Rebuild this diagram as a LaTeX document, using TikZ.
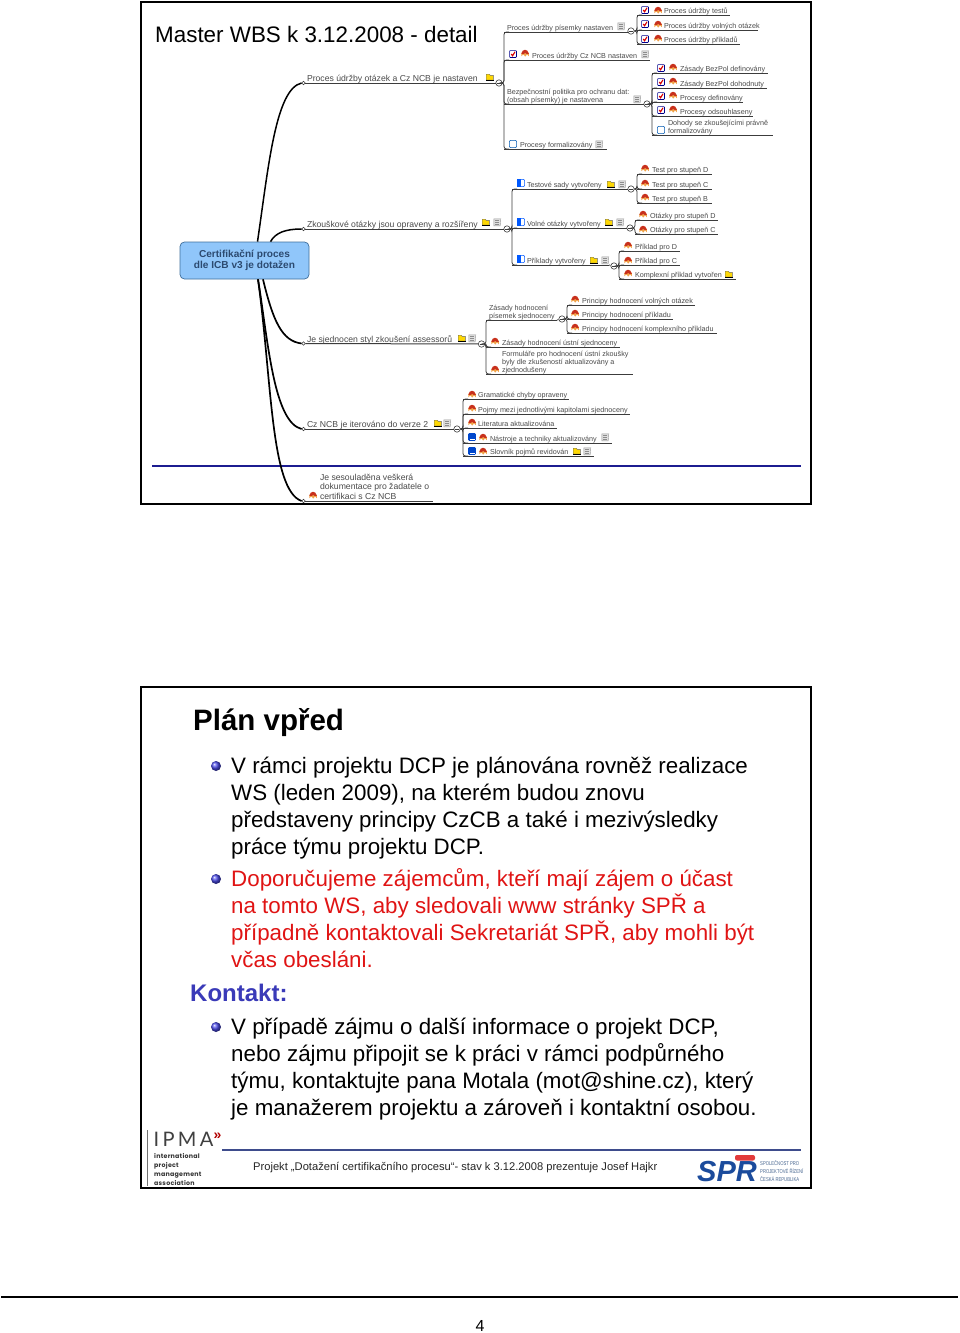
\documentclass[tikz,border=0pt]{standalone}
\usepackage{fontspec}
\setmainfont{Liberation Sans}
\newfontfamily\logofont[LetterSpace=4]{Poppins}
\newfontfamily\ipmafont{Lato}
\newfontfamily\sprfont[FakeStretch=0.75]{Liberation Sans}
\definecolor{lblc}{HTML}{4A4A4A}
\definecolor{connc}{HTML}{3C3C3C}
\definecolor{rootf}{HTML}{90C6FA}
\definecolor{rootd}{HTML}{3F6F9C}
\definecolor{roott}{HTML}{2C4A70}
\definecolor{ruleb}{HTML}{1C1C90}
\definecolor{rulec}{HTML}{3E4C8C}
\definecolor{bulc}{HTML}{4A4AE8}
\definecolor{kont}{HTML}{3A3AB8}
\definecolor{redt}{HTML}{E01414}
\definecolor{sprb}{HTML}{1B4B9C}
\definecolor{sprr}{HTML}{E23A3A}
\definecolor{sprt}{HTML}{46658F}
\definecolor{prr}{HTML}{C8301C}
\definecolor{pro}{HTML}{F0A24A}
\tikzset{
 frameb/.style={draw=black,line width=2pt,fill=white},
 lbl/.style={inner sep=0pt,outer sep=0pt,anchor=base west,align=left,text=lblc,font=\fontsize{7.2}{8.1}\selectfont},
 lblb/.style={lbl,font=\fontsize{8.65}{9.2}\selectfont},
 ulne/.style={draw=connc,line width=0.8pt},
 conn/.style={draw=connc,line width=0.8pt,rounded corners=2.5pt},
 main/.style={draw=black,line width=1.5pt},
 colp/.style={circle,draw=connc,fill=white,line width=0.6pt,minimum size=6.4pt,inner sep=0pt,path picture={\draw[connc,line width=0.5pt] ([xshift=-1.8pt]path picture bounding box.center)--([xshift=1.8pt]path picture bounding box.center);}},
 dot/.style={circle,draw=connc,fill=white,line width=0.5pt,minimum size=3.4pt,inner sep=0pt},
 bodyt/.style={inner sep=0pt,anchor=base west,align=left,font=\fontsize{22.35}{27}\selectfont},
 bul/.style={circle,ball color=bulc,draw=none,minimum size=10pt,inner sep=0pt}
}
% item: name, x0 (trunk), x1 (end), y (underline), text x, text
\newcommand{\itm}[6]{\coordinate (#1-a) at (#2,#4);\coordinate (#1-b) at (#3,#4);
 \node[lbl] (#1) at (#5,#4-1.7) {#6};\draw[ulne] (#1-a)--(#1-b);}
\newcommand{\lnk}[2]{\draw[conn] (#1.east)--(#1.east -| #2-a)--(#2-a)--++(5,0);}
% icons
\newcommand{\prio}[2]{\begin{scope}[shift={(#1,#2)}]
 \fill[pro] (-3.6,3.2) -- (-3.6,-0.4) -- (3.8,-0.4) -- (3.8,3.2) -- (2,1.4) -- (0.2,3.6) -- (-1.6,1.4) -- cycle;
 \fill[prr] (-3.6,0.8) .. controls (-3,-4.6) and (3,-4.6) .. (3.8,0.8) -- (1.4,0.8) -- (0.2,-0.2) -- (-1,0.8) -- cycle;
 \end{scope}}
\newcommand{\fld}[2]{\begin{scope}[shift={(#1,#2)}]
 \fill[yellow!75!orange,draw=black!60,line width=0.4pt] (-3.8,3) -- (-3.8,-2.8) -- (-0.6,-2.8) -- (0.2,-1.6) -- (3.4,-1.6) -- (3.4,3) -- cycle;
 \draw[black,line width=0.7pt] (-4,3.2)--(4,3.2);
 \end{scope}}
\newcommand{\noti}[2]{\begin{scope}[shift={(#1,#2)}]
 \fill[black!12,draw=black!40,line width=0.4pt] (-3.2,3.8) -- (-3.2,-3.2) -- (3.8,-3.2) -- (3.2,3.8) -- cycle;
 \draw[black!45,line width=0.4pt] (-2,-1.4)--(2.2,-1.4) (-2,0.3)--(2.2,0.3) (-2,2)--(2.2,2);
 \end{scope}}
\newcommand{\chk}[2]{\begin{scope}[shift={(#1,#2)}]
 \draw[fill=white,draw=blue!55!black,line width=0.7pt,rounded corners=0.6pt] (-3.4,-3.4) rectangle (3.4,3.4);
 \draw[red!85!black,line width=1.1pt] (-1.8,0) -- (-0.4,1.8) -- (2,-2.2);
 \end{scope}}
\newcommand{\ebx}[2]{\begin{scope}[shift={(#1,#2)}]
 \draw[fill=white,draw=blue!50!cyan!70!black,line width=0.6pt,rounded corners=1pt] (-3.6,-3.6) rectangle (3.6,3.6);
 \end{scope}}
\newcommand{\hbx}[2]{\begin{scope}[shift={(#1,#2)}]
 \draw[fill=white,draw=blue!65!cyan,line width=0.6pt,rounded corners=1pt] (-3.6,-3.6) rectangle (3.6,3.6);
 \fill[blue!65!cyan] (-3.6,-3.6) rectangle (0.4,3.6);
 \end{scope}}
\newcommand{\fbx}[2]{\begin{scope}[shift={(#1,#2)}]
 \fill[blue!65!cyan!80!black,rounded corners=1pt] (-3.8,-3.8) rectangle (3.8,3.8);
 \fill[white] (-1.6,2) rectangle (3,3);
 \end{scope}}
\begin{document}
\begin{tikzpicture}[x=1pt,y=-1pt]
\useasboundingbox (0,0) rectangle (960,1333);
\fill[white] (0,0) rectangle (960,1333);
% slide frames
\draw[frameb] (141,2) rectangle (811,504);
\draw[frameb] (141,687) rectangle (811,1188);
% ---- slide 1
\node[inner sep=0pt,anchor=base west,font=\fontsize{22.4}{27}\selectfont] (title) at (155,42) {Master WBS k 3.12.2008 - detail};
\coordinate (rl1) at (152,466);\coordinate (rl2) at (801,466);
\draw[ruleb,line width=1.3pt] (rl1)--(rl2);
\node[draw=rootd,fill=rootf,line width=0.7pt,rounded corners=4.5pt,minimum width=129pt,minimum height=37pt,inner sep=0pt,align=center,text=roott,font=\bfseries\fontsize{10.1}{11}\selectfont] (root) at (244.5,260.5) {Certifikační proces\\dle ICB v3 je dotažen};
% level 1
\node[dot] (d1) at (303.5,83) {};
\node[dot] (d2) at (303.5,229) {};
\node[dot] (d3) at (303.5,343.5) {};
\node[dot] (d4) at (303.5,429) {};
\node[dot] (d5) at (303.5,501) {};
\node[colp] (c1) at (499,83) {};
\node[colp] (c2) at (507,229) {};
\node[colp] (c3) at (481.5,344) {};
\node[colp] (c4) at (457,429) {};
\coordinate (e5) at (433,501);
\draw[ulne,line width=1pt] (d1)--(c1);
\draw[ulne] (d2)--(c2);
\draw[ulne,line width=1pt] (d3)--(c3);
\draw[ulne] (d4)--(c4);
\draw[ulne] (d5)--(e5);
\draw[main] ([xshift=13pt]root.north) .. controls +(11,-75) and +(-26,6) .. (d1.west);
\draw[main] ([xshift=26pt]root.north) .. controls +(5,-9) and +(-16,0) .. (d2.west);
\draw[main,line width=1.7pt] ([xshift=18.5pt]root.south) .. controls +(10,41) and +(-20,-2.5) .. (d3.west);
\draw[main,line width=1.7pt] ([xshift=13.5pt]root.south) .. controls +(10,61) and +(-28,-7) .. (d4.west);
\draw[main,line width=1.7pt] ([xshift=13.5pt]root.south) .. controls +(14,101) and +(-31,-11) .. (d5.west);
\node[lblb] (t1) at (307,81) {Proces údržby otázek a Cz NCB je nastaven};\fld{490}{77}
\node[lblb] (t2) at (307,227) {Zkouškové otázky jsou opraveny a rozšířeny};\fld{486}{222}\noti{497}{222}
\node[lblb] (t3) at (307,342) {Je sjednocen styl zkoušení assessorů};\fld{462}{338}\noti{472}{338}
\node[lblb] (t4) at (307,427) {Cz NCB je iterováno do verze 2};\fld{438}{423}\noti{447}{423}
\node[lblb] (t5) at (320,499) {Je sesouladěna veškerá\\dokumentace pro žadatele o\\certifikaci s Cz NCB};\prio{313}{495}
% branch 1
\itm{a1}{504}{628}{32}{507}{Proces údržby písemky nastaven}\noti{621}{26}
\itm{a2}{504}{650}{60}{532}{Proces údržby Cz NCB nastaven}\chk{513}{54}\prio{525}{53}\noti{645}{54}
\itm{a3}{504}{643}{104}{507}{Bezpečnostní politika pro ochranu dat:\\(obsah písemky) je nastavena}\noti{637}{99}
\itm{a4}{504}{607}{149}{520}{Procesy formalizovány}\ebx{513}{144}\noti{599}{144}
\foreach \n in {a1,a2,a3,a4} {\lnk{c1}{\n}}
\node[colp] (ca1) at (631,31) {};
\node[colp] (ca3) at (647,104) {};
\draw[ulne] (a1-b)--(ca1);\draw[ulne] (a3-b)--(ca3);
\itm{b1}{637}{730}{15}{664}{Proces údržby testů}\chk{645}{10}\prio{658}{10}
\itm{b2}{637}{758}{30}{664}{Proces údržby volných otázek}\chk{645}{24}\prio{658}{24}
\itm{b3}{637}{740}{44}{664}{Proces údržby příkladů}\chk{645}{39}\prio{658}{38}
\foreach \n in {b1,b2,b3} {\lnk{ca1}{\n}}
\itm{f1}{652}{768}{73}{680}{Zásady BezPol definovány}\chk{661}{68}\prio{673}{67}
\itm{f2}{652}{767}{88}{680}{Zásady BezPol dohodnuty}\chk{661}{82}\prio{673}{81}
\itm{f3}{652}{743}{102}{680}{Procesy definovány}\chk{661}{96}\prio{673}{95}
\itm{f4}{652}{753}{116}{680}{Procesy odsouhlaseny}\chk{661}{110}\prio{673}{109}
\itm{f5}{652}{773}{135}{668}{Dohody se zkoušejícími právně\\formalizovány}\ebx{661}{130}
\foreach \n in {f1,f2,f3,f4,f5} {\lnk{ca3}{\n}}
% branch 2
\itm{g1}{512}{627}{189}{527}{Testové sady vytvořeny}\hbx{521}{183}\fld{611}{184}\noti{622}{184}
\itm{g2}{512}{625}{228}{527}{Volné otázky vytvořeny}\hbx{521}{222}\fld{609}{222}\noti{620}{222}
\itm{g3}{512}{609}{265}{527}{Příklady vytvořeny}\hbx{521}{259}\fld{594}{260}\noti{605}{260}
\foreach \n in {g1,g2,g3} {\lnk{c2}{\n}}
\node[colp] (cg1) at (631,189) {};
\node[colp] (cg2) at (630,228) {};
\node[colp] (cg3) at (614,266) {};
\draw[ulne] (g1-b)--(cg1);\draw[ulne] (g2-b)--(cg2);\draw[ulne] (g3-b)--(cg3);
\itm{h1}{637}{712}{174}{652}{Test pro stupeň D}\prio{645}{168}
\itm{h2}{637}{712}{189}{652}{Test pro stupeň C}\prio{645}{183}
\itm{h3}{637}{712}{203}{652}{Test pro stupeň B}\prio{645}{197}
\foreach \n in {h1,h2,h3} {\lnk{cg1}{\n}}
\itm{i1}{635}{718}{220}{650}{Otázky pro stupeň D}\prio{643}{214}
\itm{i2}{635}{718}{234}{650}{Otázky pro stupeň C}\prio{643}{229}
\foreach \n in {i1,i2} {\lnk{cg2}{\n}}
\itm{j1}{619}{680}{251}{635}{Příklad pro D}\prio{628}{245}
\itm{j2}{619}{680}{265}{635}{Příklad pro C}\prio{628}{260}
\itm{j3}{619}{736}{279}{635}{Komplexní příklad vytvořen}\prio{628}{273}\fld{729}{274}
\foreach \n in {j1,j2,j3} {\lnk{cg3}{\n}}
% branch 3
\itm{k1}{486}{557}{320}{489}{Zásady hodnocení\\písemek sjednoceny}
\itm{k2}{486}{620}{347}{502}{Zásady hodnocení ústní sjednoceny}\prio{495}{341}
\itm{k3}{486}{633}{374}{502}{Formuláře pro hodnocení ústní zkoušky\\byly dle zkušeností aktualizovány a\\zjednodušeny}\prio{495}{369}
\foreach \n in {k1,k2,k3} {\lnk{c3}{\n}}
\node[colp] (ck1) at (562,319) {};
\draw[ulne] (k1-b)--(ck1);
\itm{l1}{567}{695}{305}{582}{Principy hodnocení volných otázek}\prio{575}{299}
\itm{l2}{567}{673}{319}{582}{Principy hodnocení příkladu}\prio{575}{313}
\itm{l3}{567}{717}{333}{582}{Principy hodnocení komplexního příkladu}\prio{575}{327}
\foreach \n in {l1,l2,l3} {\lnk{ck1}{\n}}
% branch 4
\itm{m1}{463}{569}{399}{478}{Gramatické chyby opraveny}\prio{472}{394}
\itm{m2}{463}{630}{414}{478}{Pojmy mezi jednotlivými kapitolami sjednoceny}\prio{472}{408}
\itm{m3}{463}{557}{428}{478}{Literatura aktualizována}\prio{472}{422}
\itm{m4}{463}{612}{443}{490}{Nástroje a techniky aktualizovány}\fbx{472}{437}\prio{483}{437}\noti{605}{437}
\itm{m5}{463}{594}{456}{490}{Slovník pojmů revidován}\fbx{472}{451}\prio{483}{451}\fld{577}{451}\noti{587}{451}
\foreach \n in {m1,m2,m3,m4,m5} {\lnk{c4}{\n}}
% ---- slide 2
\node[inner sep=0pt,anchor=base west,font=\bfseries\fontsize{29.5}{34}\selectfont] (plan) at (193,730.5) {Plán vpřed};
\node[bul] (u1) at (216,766) {};
\node[bul] (u2) at (216,879) {};
\node[bul] (u3) at (216,1027) {};
\node[bodyt] (p1) at (231,854) {V rámci projektu DCP je plánována rovněž realizace\\WS (leden 2009), na kterém budou znovu\\představeny principy CzCB a také i mezivýsledky\\práce týmu projektu DCP.};
\node[bodyt,text=redt] (p2) at (231,967) {Doporučujeme zájemcům, kteří mají zájem o účast\\na tomto WS, aby sledovali www stránky SPŘ a\\případně kontaktovali Sekretariát SPŘ, aby mohli být\\včas obesláni.};
\node[inner sep=0pt,anchor=base west,text=kont,font=\bfseries\fontsize{24}{27}\selectfont] (kon) at (190,1001) {Kontakt:};
\node[bodyt] (p3) at (231,1115) {V případě zájmu o další informace o projekt DCP,\\nebo zájmu připojit se k práci v rámci podpůrného\\týmu, kontaktujte pana Motala (mot@shine.cz), který\\je manažerem projektu a zároveň i kontaktní osobou.};
% footer
\coordinate (fl1) at (222,1150);\coordinate (fl2) at (801,1150);
\draw[rulec,line width=1.4pt] (fl1)--(fl2);
\node[inner sep=0pt,anchor=base west,text=black!85,font=\fontsize{11.15}{13}\selectfont] (foot) at (253,1170) {Projekt „Dotažení certifikačního procesu“- stav k 3.12.2008 prezentuje Josef Hajkr};
% IPMA logo
\coordinate (il1) at (147,1130);\coordinate (il2) at (147,1186);
\draw[black!55,line width=1pt] (il1)--(il2);
\node[inner sep=0pt,anchor=base west,text=black!75,font=\ipmafont\fontsize{20}{20}\selectfont] (ipma) at (153.5,1146) {I\,P\,M\,A};
\node[inner sep=0pt,anchor=base west,text=red!70!black,font=\bfseries\fontsize{14}{14}\selectfont] (ipmb) at (213.5,1139) {»};
\node[inner sep=0pt,anchor=base west,align=left,text=black!80,font=\logofont\bfseries\fontsize{6.3}{8.7}\selectfont] (ipmc) at (154,1185) {international\\project\\management\\association};
% SPR logo
\node[inner sep=0pt,anchor=base west,text=sprb,font=\bfseries\itshape\fontsize{29}{29}\selectfont] (spr) at (697,1181) {SPŘ};
\fill[sprr,rounded corners=2pt] (735,1155) rectangle (755,1160.5);
\node[inner sep=0pt,anchor=base west,align=left,text=sprt,font=\sprfont\fontsize{5.6}{7.6}\selectfont] (sprx) at (760,1181) {SPOLEČNOST PRO\\PROJEKTOVÉ ŘÍZENÍ\\ČESKÁ REPUBLIKA};
% page
\coordinate (pl1) at (1,1297);\coordinate (pl2) at (958,1297);
\draw[black,line width=1.6pt] (pl1)--(pl2);
\node[inner sep=0pt,anchor=base,font=\fontsize{16}{18}\selectfont] (pg) at (480,1331) {4};
\end{tikzpicture}
\end{document}
